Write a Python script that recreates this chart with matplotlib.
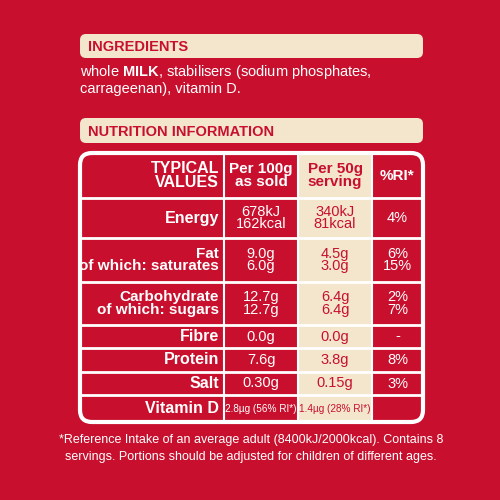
import matplotlib
matplotlib.use("Agg")
import matplotlib.pyplot as plt
from matplotlib.patches import FancyBboxPatch, Rectangle

RED = "#C8102E"; CREAM = "#F3E6CC"; WHITE = "white"
FONT = ['Liberation Sans', 'DejaVu Sans']

ingredients_title = "INGREDIENTS"
ingredients_lines = ["whole $\\bf{MILK}$, stabilisers (sodium phosphates,", "carrageenan), vitamin D."]
nutrition_title = "NUTRITION INFORMATION"
headers = ["TYPICAL\nVALUES", "Per 100g\nas sold", "Per 50g\nserving", "%RI*"]
labels = ["Energy", "Fat\nof which: saturates", "Carbohydrate\nof which: sugars", "Fibre", "Protein", "Salt", "Vitamin D"]
per100 = ["678kJ\n162kcal", "9.0g\n6.0g", "12.7g\n12.7g", "0.0g", "7.6g", "0.30g", "2.8µg (56% RI*)"]
per50 = ["340kJ\n81kcal", "4.5g\n3.0g", "6.4g\n6.4g", "0.0g", "3.8g", "0.15g", "1.4µg (28% RI*)"]
ri = ["4%", "6%\n15%", "2%\n7%", "-", "8%", "3%", ""]
footnote = ["*Reference Intake of an average adult (8400kJ/2000kcal). Contains 8",
            "servings. Portions should be adjusted for children of different ages."]

plt.rcParams['mathtext.fontset'] = 'custom'
plt.rcParams['mathtext.bf'] = 'Liberation Sans:bold'
fig = plt.figure(figsize=(5, 5), dpi=100, facecolor=RED)
ax = fig.add_axes([0, 0, 1, 1]); ax.set_xlim(0, 500); ax.set_ylim(500, 0); ax.axis('off')
ax.add_patch(Rectangle((0, 0), 500, 500, color=RED))

def banner(y0, y1, txt):
    ax.add_patch(FancyBboxPatch((80, y0), 343, y1 - y0, boxstyle="round,pad=0,rounding_size=6", color=CREAM, lw=0))
    ax.text(88, (y0 + y1) / 2 + 1, txt, color=RED, fontsize=10.5, weight='bold', va='center', family=FONT)

banner(34, 58, ingredients_title)
for i, l in enumerate(ingredients_lines):
    ax.text(80, 72 + i * 17, l, color=WHITE, fontsize=10.5, va='center', family=FONT)
banner(118, 143, nutrition_title)

x0, x1 = 80, 423
cols = [80, 224, 298, 372, 423]
rows = [153, 198, 238, 282, 325, 348, 372, 395, 422]
ax.add_patch(Rectangle((cols[2], rows[0]), cols[3] - cols[2], rows[-1] - rows[0], color=CREAM, lw=0))
ax.add_patch(FancyBboxPatch((x0, rows[0]), x1 - x0, rows[-1] - rows[0], boxstyle="round,pad=0,rounding_size=12",
                            fill=False, ec=WHITE, lw=3))
for c in cols[1:-1]:
    ax.plot([c, c], [rows[0], rows[-1]], color=WHITE, lw=1.5)
for r in rows[1:-1]:
    ax.plot([x0, x1], [r, r], color=WHITE, lw=2)

def cell(ci, ri_, txt, bold=False, ha='center', size=10.5):
    col = RED if ci == 2 else WHITE
    y = (rows[ri_] + rows[ri_ + 1]) / 2
    x = cols[ci + 1] - 5 if ha == 'right' else (cols[ci] + cols[ci + 1]) / 2
    ax.text(x, y, txt, color=col, fontsize=size, weight='bold' if bold else 'normal', ha=ha, va='center',
            family=FONT, linespacing=0.9, multialignment=ha)

cell(0, 0, headers[0], True, 'right', 11.5)
for c in (1, 2, 3):
    cell(c, 0, headers[c], True, size=11)
for i in range(len(labels)):
    cell(0, i + 1, labels[i], True, 'right', 11 if i in (1, 2) else 11.5)
    sz = 7.2 if i == 6 else 10.5
    cell(1, i + 1, per100[i], size=sz)
    cell(2, i + 1, per50[i], size=sz)
    cell(3, i + 1, ri[i], size=10.5)

for i, l in enumerate(footnote):
    ax.text(251, 440 + i * 17, l, color=WHITE, fontsize=9, ha='center', va='center', family=FONT)

fig.savefig("out.png", dpi=100, facecolor=RED)
